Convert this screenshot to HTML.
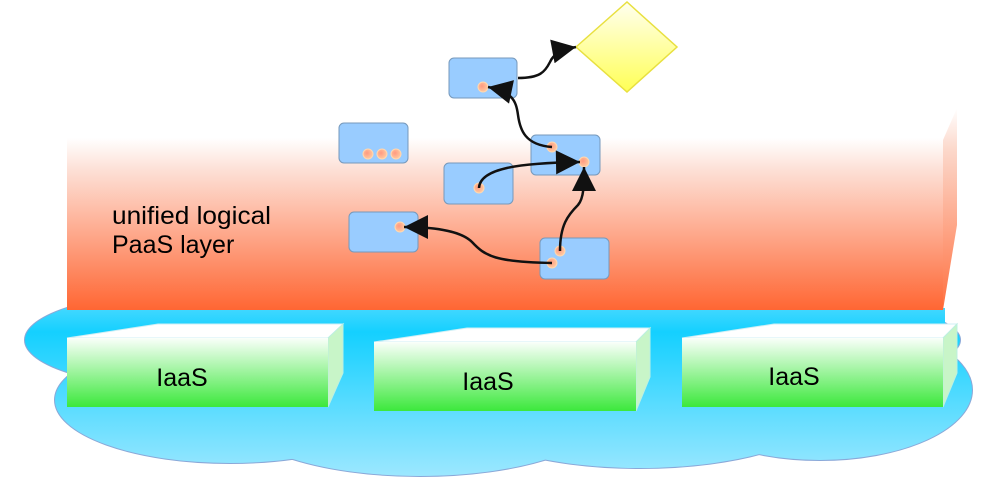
<!DOCTYPE html>
<html><head><meta charset="utf-8"><style>
html,body{margin:0;padding:0;background:#fff;width:1004px;height:498px;overflow:hidden}
svg{display:block}
text{font-family:"Liberation Sans",Arial,sans-serif;fill:#000}
</style></head><body>
<svg width="1004" height="498" viewBox="0 0 1004 498" xmlns="http://www.w3.org/2000/svg">
<defs>
<linearGradient id="paas" x1="0" y1="110" x2="0" y2="310" gradientUnits="userSpaceOnUse">
<stop offset="0" stop-color="#fff"/><stop offset="0.14" stop-color="#fff"/><stop offset="0.3" stop-color="#fde0d6"/><stop offset="1" stop-color="#ff6633"/>
</linearGradient>
<linearGradient id="paasSide" x1="0" y1="0" x2="0" y2="1">
<stop offset="0" stop-color="#fff"/><stop offset="0.2" stop-color="#fcd9cc"/><stop offset="1" stop-color="#ff7040"/>
</linearGradient>
<linearGradient id="cloud" x1="0" y1="295" x2="0" y2="480" gradientUnits="userSpaceOnUse">
<stop offset="0" stop-color="#5ddcff"/><stop offset="0.2" stop-color="#14d0ff"/><stop offset="1" stop-color="#a0e8ff"/>
</linearGradient>
<linearGradient id="green" x1="0" y1="0" x2="0" y2="1">
<stop offset="0" stop-color="#fafffa"/><stop offset="1" stop-color="#3ce83c"/>
</linearGradient>
<linearGradient id="dia" x1="0" y1="0" x2="0" y2="1">
<stop offset="0" stop-color="#fffff0"/><stop offset="1" stop-color="#ffff55"/>
</linearGradient>
<radialGradient id="dot" cx="0.4" cy="0.4" r="0.6">
<stop offset="0" stop-color="#ff9a80"/><stop offset="1" stop-color="#ffc9a0"/>
</radialGradient>
<marker id="ar" viewBox="0 0 10 10" refX="10" refY="5" markerWidth="26" markerHeight="24" markerUnits="userSpaceOnUse" orient="auto">
<path d="M0,0 L10,5 L0,10 z" fill="#111"/>
</marker>
</defs>

<!-- cloud -->
<g stroke="#8aa8d8" stroke-width="2" fill="none">
<ellipse cx="190" cy="340" rx="165" ry="48"/>
<ellipse cx="230" cy="400" rx="175" ry="63"/>
<ellipse cx="420" cy="410" rx="190" ry="66"/>
<ellipse cx="640" cy="405" rx="190" ry="63"/>
<ellipse cx="820" cy="390" rx="152" ry="70"/>
<ellipse cx="800" cy="340" rx="160" ry="40"/>
</g>
<g fill="url(#cloud)">
<ellipse cx="190" cy="340" rx="165" ry="48"/>
<ellipse cx="230" cy="400" rx="175" ry="63"/>
<ellipse cx="420" cy="410" rx="190" ry="66"/>
<ellipse cx="640" cy="405" rx="190" ry="63"/>
<ellipse cx="820" cy="390" rx="152" ry="70"/>
<ellipse cx="800" cy="340" rx="160" ry="40"/>
<rect x="75" y="308" width="870" height="112"/>
</g>

<!-- PaaS layer -->
<polygon points="943,140 957,108 957,225 943,310" fill="url(#paasSide)"/>
<rect x="67" y="110" width="876" height="200" fill="url(#paas)"/>

<!-- IaaS boxes -->
<g>
<polygon points="67,338 158,324 343,324 328,338" fill="#fff" stroke="#cfeff5" stroke-width="1"/>
<polygon points="328,338 343,324 343,373 328,407" fill="#c8f5c8" stroke="#bdf0e0" stroke-width="1"/>
<rect x="67" y="338" width="261" height="69" fill="url(#green)"/>
<text x="182" y="386" font-size="25" text-anchor="middle">IaaS</text>

<polygon points="374,342 467,328 650,328 636,342" fill="#fff" stroke="#cfeff5" stroke-width="1"/>
<polygon points="636,342 650,328 650,377 636,411" fill="#c8f5c8" stroke="#bdf0e0" stroke-width="1"/>
<rect x="374" y="342" width="262" height="69" fill="url(#green)"/>
<text x="488" y="390" font-size="25" text-anchor="middle">IaaS</text>

<polygon points="682,338 774,324 957,324 943,338" fill="#fff" stroke="#cfeff5" stroke-width="1"/>
<polygon points="943,338 957,324 957,373 943,407" fill="#c8f5c8" stroke="#bdf0e0" stroke-width="1"/>
<rect x="682" y="338" width="261" height="69" fill="url(#green)"/>
<text x="794" y="385" font-size="25" text-anchor="middle">IaaS</text>
</g>

<text x="112" y="224" font-size="25" textLength="159" lengthAdjust="spacingAndGlyphs">unified logical</text>
<text x="112" y="253" font-size="25">PaaS layer</text>

<!-- diamond -->
<polygon points="576,47 627,2 677,47 627,92" fill="url(#dia)" stroke="#e8e040" stroke-width="1.5"/>

<!-- nodes -->
<g fill="#99ccff" stroke="#7799bb" stroke-width="1">
<rect x="449" y="58" width="68" height="40" rx="5"/>
<rect x="339" y="123" width="69" height="40" rx="5"/>
<rect x="531" y="135" width="69" height="40" rx="5"/>
<rect x="444" y="163" width="69" height="41" rx="5"/>
<rect x="349" y="212" width="69" height="40" rx="5"/>
<rect x="540" y="238" width="69" height="41" rx="5"/>
</g>
<g fill="url(#dot)" stroke="#ffd8b0" stroke-width="1">
<circle cx="483" cy="87" r="5"/>
<circle cx="368" cy="154" r="5"/><circle cx="382" cy="154" r="5"/><circle cx="396" cy="154" r="5"/>
<circle cx="552" cy="147" r="5"/><circle cx="584" cy="162" r="5"/>
<circle cx="479" cy="188" r="5"/>
<circle cx="400" cy="227" r="5"/>
<circle cx="560" cy="251" r="5"/><circle cx="552" cy="263" r="5"/>
</g>

<!-- connectors -->
<g fill="none" stroke="#111" stroke-width="2.5">
<path d="M518,78 C540,78 545,72 550,62 C553,55 560,50 576,47" marker-end="url(#ar)"/>
<path d="M552,147 C525,145 520,130 518,115 C516,100 512,92 488,87" marker-end="url(#ar)"/>
<path d="M479,188 C480,168 520,163 580,162" marker-end="url(#ar)"/>
<path d="M560,251 C560,225 568,215 578,205 C584,198 584,185 584,167" marker-end="url(#ar)"/>
<path d="M552,263 C495,262 485,256 472,242 C460,230 430,227 404,227" marker-end="url(#ar)"/>
</g>
</svg>
</body></html>
